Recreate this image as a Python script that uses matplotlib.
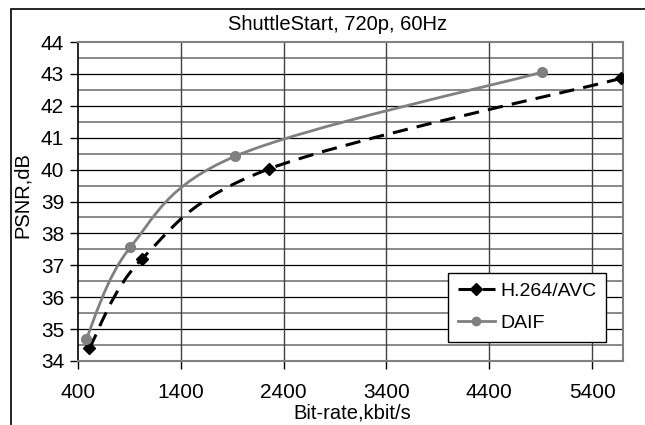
import numpy as np
import matplotlib
matplotlib.use("Agg")
from matplotlib import pyplot as plt
from matplotlib.path import Path
from matplotlib.patches import PathPatch, Rectangle
from matplotlib.lines import Line2D

plt.rcParams['font.family'] = ['Liberation Sans', 'DejaVu Sans']

# values
h264_rate = [510, 1022, 2256, 5684]
h264_psnr = [34.40, 37.20, 40.02, 42.86]
daif_rate = [478, 908, 1929, 4909]
daif_psnr = [34.68, 37.56, 40.42, 43.05]
x_ticks = [400, 1400, 2400, 3400, 4400, 5400]
y_ticks = [34, 35, 36, 37, 38, 39, 40, 41, 42, 43, 44]


def smooth_path(x, y, t=1 / 6.0):
    # Excel-style smoothed line as cubic bezier segments through the points
    x = np.asarray(x, float)
    y = np.asarray(y, float)
    n = len(x)
    verts = [(x[0], y[0])]
    codes = [Path.MOVETO]
    for i in range(n - 1):
        x0, y0 = (x[i - 1], y[i - 1]) if i > 0 else (x[i], y[i])
        x3, y3 = (x[i + 2], y[i + 2]) if i + 2 < n else (x[i + 1], y[i + 1])
        c1 = (x[i] + (x[i + 1] - x0) * t, y[i] + (y[i + 1] - y0) * t)
        c2 = (x[i + 1] - (x3 - x[i]) * t, y[i + 1] - (y3 - y[i]) * t)
        verts += [c1, c2, (x[i + 1], y[i + 1])]
        codes += [Path.CURVE4] * 3
    return Path(verts, codes)


fig = plt.figure(figsize=(6.45, 4.25), dpi=100)
W, H = 645, 425
ax = fig.add_axes([78 / W, 1 - 361 / H, (623 - 78) / W, (361 - 42) / H])

# outer chart frame
fig.patches.append(Rectangle((11 / W, -0.1), 1.0, 1 - 9 / H + 0.1,
                             transform=fig.transFigure, fill=False,
                             edgecolor='black', lw=1.2))

ax.set_xlim(400, 5700)
ax.set_ylim(34, 44)

for v in np.arange(34.5, 44, 1.0):
    ax.axhline(v, color='#808080', lw=1.3, zorder=1)
for v in y_ticks[1:-1]:
    ax.axhline(v, color='black', lw=0.9, zorder=1)
for v in x_ticks[1:]:
    ax.axvline(v, color='#404040', lw=1.0, zorder=1)

p1 = PathPatch(smooth_path(h264_rate, h264_psnr), fill=False, edgecolor='black',
               lw=2.2, linestyle=(0, (5, 3)), zorder=3, capstyle='butt')
ax.add_patch(p1)
ax.plot(h264_rate, h264_psnr, ls='none', marker='D', color='black', ms=6, zorder=4)

p2 = PathPatch(smooth_path(daif_rate, daif_psnr), fill=False, edgecolor='#808080',
               lw=2.0, zorder=3)
ax.add_patch(p2)
ax.plot(daif_rate, daif_psnr, ls='none', marker='o', color='#808080', ms=7, zorder=4)

ax.set_xticks(x_ticks)
ax.set_yticks(y_ticks)
ax.tick_params(direction='out', length=6, width=1, colors='black', labelsize=15)
ax.tick_params(axis='x', pad=10)
ax.tick_params(axis='y', pad=4)

ax.spines['left'].set_color('black')
ax.spines['left'].set_linewidth(1.2)
for s in ['top', 'right', 'bottom']:
    ax.spines[s].set_color('#808080')
    ax.spines[s].set_linewidth(1.5)

fig.text(338 / W, 1 - 25 / H, 'ShuttleStart, 720p, 60Hz', ha='center', va='center', fontsize=14.5)
fig.text(352 / W, 1 - 413 / H, 'Bit-rate,kbit/s', ha='center', va='center', fontsize=14.5)
fig.text(22 / W, 1 - 195 / H, 'PSNR,dB', ha='center', va='center', rotation=90, fontsize=14.5)

handles = [Line2D([], [], color='black', lw=2.2, ls=(0, (5, 3)), marker='D', ms=6),
           Line2D([], [], color='#808080', lw=2.0, marker='o', ms=6)]
leg = ax.legend(handles, ['H.264/AVC', 'DAIF'], loc='lower left',
                bbox_to_anchor=((448 - 78) / (623 - 78), (361 - 342) / (361 - 42)),
                fontsize=14, frameon=True, fancybox=False, framealpha=1,
                edgecolor='black', borderpad=0.5, handlelength=1.9,
                handletextpad=0.3, labelspacing=0.75, borderaxespad=0)
leg.get_frame().set_linewidth(1.0)
leg.set_zorder(5)

fig.savefig('out.png', dpi=100)
